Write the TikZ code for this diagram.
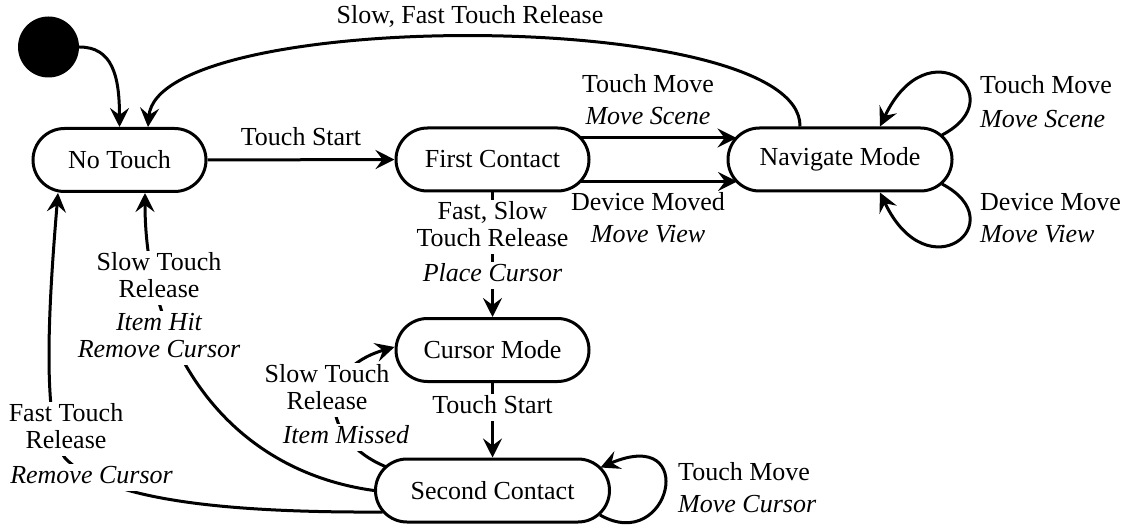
\documentclass[tikz,border=0pt]{standalone}
\usepackage{fontspec}
\setmainfont{Liberation Serif}
\usetikzlibrary{arrows.meta,calc,backgrounds}

\begin{document}
\begin{tikzpicture}[x=1pt,y=-1pt,
  every node/.style={font=\fontsize{26}{27}\selectfont},
  state/.style={draw, line width=3pt, fill=white, rounded corners=31.5pt,
                minimum height=63pt, inner sep=0pt},
  flow/.style={line width=3pt, -{Stealth[length=19pt,width=19pt,inset=7pt]}},
  lbl/.style={fill=white, inner sep=0pt, align=center, anchor=north, yshift=18.9pt},
  act/.style={lbl, font=\fontsize{26}{27}\selectfont\itshape},
  lbll/.style={fill=white, inner sep=0pt, align=left, anchor=north west, yshift=18.9pt},
  actl/.style={lbll, font=\fontsize{26}{27}\selectfont\itshape}
]
\useasboundingbox (0,0) rectangle (1131,529);

% states
\node[circle, fill=black, minimum size=61pt, inner sep=0pt] (init) at (48.5,47) {};
\node[state, minimum width=173pt] (nt) at (119.5,160) {No Touch};
\node[state, minimum width=193pt] (fc) at (492.5,159.5) {First Contact};
\node[state, minimum width=224pt] (nm) at (840,159.5) {Navigate Mode};
\node[state, minimum width=193pt] (cm) at (492.5,350) {Cursor Mode};
\node[state, minimum width=234pt] (sc) at (492.5,490.5) {Second Contact};

% transitions
\begin{scope}[on background layer]
  \draw[flow] (init.east) .. controls (112,47) and (119.5,75) .. (nt.north);
  \draw[flow] ($(nm.north)+(-40,0)$) .. controls (802,7) and (158,7) .. ($(nt.north)+(28.5,0)$);
  \draw[flow] (nt.east) -- (fc.west);
  \draw[flow] ($(fc.center)+(60,-21.5)$) -- ($(nm.center)+(-103.5,-21.5)$);
  \draw[flow] ($(fc.center)+(60,22)$) -- ($(nm.center)+(-103,22)$);
  \draw[flow] ($(nm.center)+(102,-24.5)$) .. controls (1015,97) and (928,25) .. ($(nm.north)+(40,0)$);
  \draw[flow] ($(nm.center)+(102,24.5)$) .. controls (1015,222) and (928,294) .. ($(nm.south)+(40,0)$);
  \draw[flow] (fc.south) -- (cm.north);
  \draw[flow] (cm.south) -- (sc.north);
  \draw[flow] ($(sc.center)+(-106,-23.5)$) .. controls (320,440) and (315,370) .. ($(cm.west)+(0,-3)$);
  \draw[flow] (sc.west) .. controls (225,470) and (145,345) .. ($(nt.south)+(25.5,0)$);
  \draw[flow] ($(sc.center)+(-110,21.5)$) .. controls (200,513) and (100,495) .. (65,458)
              .. controls (40,425) and (50,290) .. ($(nt.south)+(-61.5,0)$);
  \draw[flow] ($(sc.center)+(107.5,24.5)$) .. controls (670,555) and (700,425) .. ($(sc.center)+(108,-23)$);
\end{scope}

% transition labels
\node[lbl] (l-back) at (470,23) {\strut Slow, Fast Touch Release};
\node[lbl] (l-start) at (301,145) {\strut Touch Start};
\node[lbl] (l-tm) at (648,92) {\strut Touch Move};
\node[act] (l-ms) at (648,124) {\strut Move Scene};
\node[lbl] (l-dm) at (648,210) {\strut Device Moved};
\node[act] (l-mv) at (648,242) {\strut Move View};
\node[lbll] (l-tm2) at (980,93) {\strut Touch Move};
\node[actl] (l-ms2) at (980,127) {\strut Move Scene};
\node[lbll] (l-dm2) at (980,210) {\strut Device Move};
\node[actl] (l-mv2) at (980,242) {\strut Move View};
\node[lbl] (l-fs) at (492.5,219) {\strut Fast, Slow\\\strut Touch Release};
\node[act] (l-pc) at (492.5,281) {\strut Place Cursor};
\node[lbl] (l-start2) at (492.5,413) {\strut Touch Start};
\node[lbl] (l-slow1) at (327,382) {\strut Slow Touch\\\strut Release};
\node[act] (l-miss) at (346,443) {\strut Item Missed};
\node[lbl] (l-slow2) at (159,270) {\strut Slow Touch\\\strut Release};
\node[act] (l-hit) at (159,330) {\strut Item Hit\\\strut Remove Cursor};
\node[lbl] (l-fast) at (66,421) {\strut Fast Touch\\\strut Release};
\node[act] (l-rc) at (91.5,483) {\strut Remove Cursor};
\node[lbll] (l-tm3) at (678,480) {\strut Touch Move};
\node[actl] (l-mc) at (678,512) {\strut Move Cursor};
\end{tikzpicture}
\end{document}
